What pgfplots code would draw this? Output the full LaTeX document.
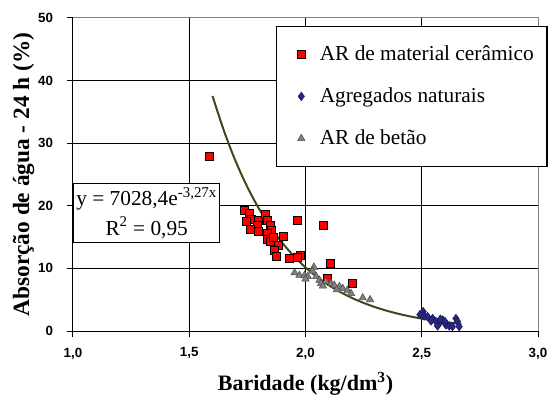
\documentclass[border=0pt]{standalone}
\usepackage{fontspec}
\setmainfont{Liberation Serif}
\setsansfont{Liberation Sans}
\usepackage{pgfplots}
\pgfplotsset{compat=1.18}
\definecolor{redm}{RGB}{255,0,0}
\definecolor{bluem}{RGB}{40,40,130}
\definecolor{graym}{RGB}{128,128,128}
\definecolor{trend}{RGB}{70,70,25}
\begin{document}
\begin{tikzpicture}
\begin{axis}[
  scale only axis,
  width=348.75pt, height=234.75pt,
  xmin=1, xmax=3, ymin=0, ymax=50,
  xtick={1,1.5,2,2.5,3}, ytick={0,10,20,30,40,50},
  xticklabels={{1,0},{1,5},{2,0},{2,5},{3,0}},
  /pgf/number format/assume math mode=true,
  tick label style={font=\sffamily\bfseries\fontsize{10}{12}\selectfont, text=black},
  xticklabel style={yshift=-4.5pt},
  yticklabel style={xshift=-7pt},
  tick align=outside, tick pos=left, major tick length=4.5pt,
  grid=major, major grid style={black, line width=0.75pt},
  axis line style={black, line width=0.75pt},
  every tick/.style={black, line width=0.75pt},
  clip=false,
  xlabel={\bfseries Baridade (kg/dm\textsuperscript{3})},
  ylabel={\bfseries Absorção de água - 24 h (\%)},
  xlabel style={font=\fontsize{16.5}{20}\selectfont, yshift=-3pt},
  ylabel style={font=\fontsize{17.5}{20}\selectfont, yshift=-4pt},
  legend cell align=left,
  legend image code/.code={\draw[#1] plot coordinates {(0.35cm,0cm)}; \path (0cm,0cm) (0.75cm,0cm);},
  legend style={at={(rel axis cs:0.4366,0.975)}, anchor=north west, draw=black, line width=1pt,
    font=\fontsize{16}{19}\selectfont, row sep=15pt, inner xsep=8pt, inner ysep=12.5pt},
]
\addplot[only marks, mark=square*, mark size=3pt, mark options={fill=redm, draw=black, line width=0.6pt}] table {
x y
1.588 27.95
1.739 19.3
1.760 18.8
1.767 17.8
1.798 17.6
1.828 18.6
1.834 17.7
1.791 16.9
1.763 16.3
1.797 15.9
1.850 16.9
1.855 16.1
1.837 15.6
1.837 14.7
1.848 14.3
1.885 13.7
1.907 15.1
1.866 12.8
1.873 11.9
1.966 17.6
2.079 16.9
1.931 11.6
1.977 12.0
2.109 10.8
2.093 8.4
2.202 7.6
1.745 17.5
1.860 15.0
1.965 11.8
};
\addlegendentry{AR de material cerâmico}
\addplot[only marks, mark=diamond*, mark size=3.2pt, mark options={fill=bluem, draw=bluem!70!black, line width=0.4pt}] table {
x y
2.506 3.1
2.492 2.6
2.510 2.4
2.525 2.3
2.547 2.0
2.561 1.5
2.575 1.2
2.590 1.76
2.604 0.96
2.618 0.8
2.647 2.0
2.654 1.5
2.661 0.7
2.632 0.7
2.568 0.8
2.540 1.6
2.600 1.5
2.580 1.9
};
\addlegendentry{Agregados naturais}
\addplot[only marks, mark=triangle*, mark size=3.2pt, mark options={fill=graym, draw=graym!60!black, line width=0.4pt}] table {
x y
1.953 9.3
1.974 8.9
1.996 8.9
2.010 8.7
2.036 10.2
2.030 9.6
2.046 8.7
2.060 8.1
2.067 7.6
2.088 7.9
2.110 7.6
2.124 7.3
2.146 7.1
2.160 6.8
2.180 6.5
2.196 6.0
2.246 5.3
2.278 5.0
2.000 8.3
2.075 7.2
2.135 6.6
};
\addlegendentry{AR de betão}
\addplot[trend, line width=1.5pt, smooth, forget plot] table {
x y
1.60 37.55
1.65 31.89
1.70 27.08
1.75 23.00
1.80 19.53
1.85 16.58
1.90 14.08
1.95 11.96
2.00 10.15
2.05 8.62
2.10 7.32
2.15 6.22
2.20 5.28
2.25 4.48
2.30 3.81
2.35 3.23
2.40 2.745
2.45 2.331
2.50 1.979
2.55 1.681
2.60 1.427
2.65 1.212
2.67 1.135
};
\draw[graym, line width=0.75pt] (rel axis cs:0,1) -- (rel axis cs:1,1) -- (rel axis cs:1,0);
\node[draw=black, fill=white, line width=1pt, anchor=north west, minimum width=106.5pt, minimum height=44pt,
  align=center, font=\fontsize{16}{22}\selectfont, inner sep=2pt] at (rel axis cs:0,0.473)
  {y = 7028,4e\textsuperscript{-3,27x}\\R\textsuperscript{2} = 0,95};
\coordinate (ll) at (rel axis cs:0,0);
\coordinate (ur) at (rel axis cs:1,1);
\end{axis}
\pgfresetboundingbox
\path ([shift={(-54.75pt,-48.75pt)}]ll) rectangle ([shift={(10.5pt,13.5pt)}]ur);
\end{tikzpicture}
\end{document}
